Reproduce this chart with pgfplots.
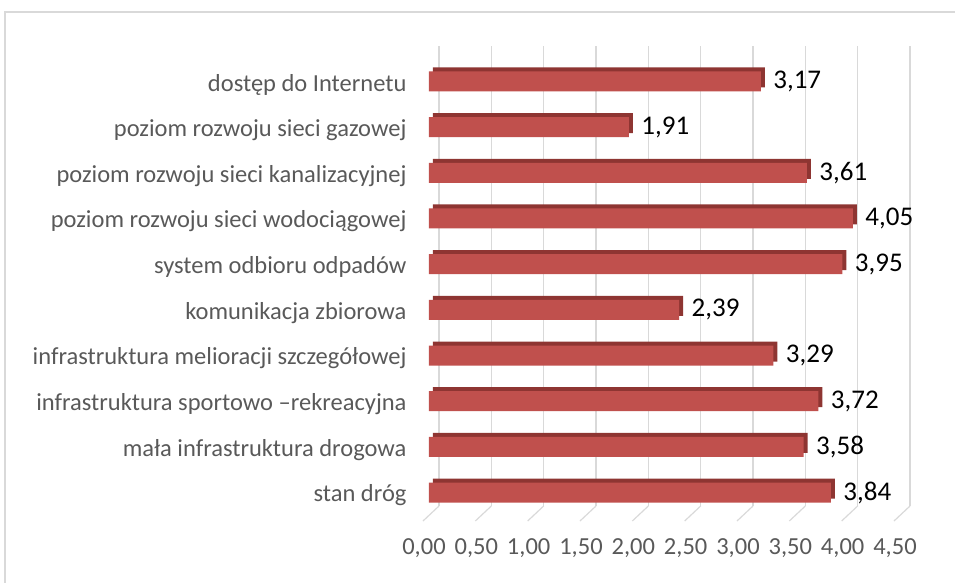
\documentclass[border=0pt]{standalone}
\usepackage{pgfplots}
\pgfplotsset{compat=1.18}
\usepackage{fontspec}
\setmainfont{Carlito}

\definecolor{barfront}{HTML}{C0504D}
\definecolor{barside}{HTML}{8E3532}
\definecolor{gridc}{HTML}{D9D9D9}
\definecolor{labc}{HTML}{595959}

\begin{document}
\begin{tikzpicture}
\useasboundingbox (-429pt,-61pt) rectangle (526pt,521pt);
\draw[gridc, line width=1.2pt] (-424pt,-64pt) -- (-424pt,509pt) -- (530pt,509pt);
\begin{axis}[
    at={(0pt,0pt)}, anchor=south west,
    scale only axis, width=471pt, height=475pt,
    xmin=0, xmax=4.5, ymin=-0.624, ymax=9.777,
    clip=false,
    axis line style={draw=none},
    major tick length=0pt,
    xtick={0,0.5,1,1.5,2,2.5,3,3.5,4,4.5},
    ytick={0,...,9},
    yticklabels={stan dróg, mała infrastruktura drogowa,
        infrastruktura sportowo –rekreacyjna,
        infrastruktura melioracji szczegółowej, komunikacja zbiorowa,
        system odbioru odpadów, poziom rozwoju sieci wodociągowej,
        poziom rozwoju sieci kanalizacyjnej, poziom rozwoju sieci gazowej,
        dostęp do Internetu},
    /pgf/number format/.cd, use comma, fixed, fixed zerofill, precision=2,
        assume math mode=true,
    /pgfplots/.cd,
    xticklabel style={font=\fontsize{24.5}{28}\selectfont, text=labc, xshift=-5pt, yshift=-14pt},
    yticklabel style={font=\fontsize{24.5}{28}\selectfont, text=labc, xshift=-19pt, yshift=-3pt},
]
% back wall grid and floor lines
\pgfplotsinvokeforeach{0,0.5,1,1.5,2,2.5,3,3.5,4,4.5}{
  \draw[gridc, line width=1.2pt] ([xshift=10pt,yshift=15pt]axis cs:#1,-0.624) -- ([xshift=10pt]axis cs:#1,9.777);
  \draw[gridc, line width=1.2pt] ([xshift=-6pt]axis cs:#1,-0.624) -- ([xshift=10pt,yshift=15pt]axis cs:#1,-0.624);
}
% top and side faces of the bars
\addplot[xbar, bar width=20pt, fill=barside, draw=none, xshift=4pt, yshift=4pt] coordinates {
    (3.84,0) (3.58,1) (3.72,2) (3.29,3) (2.39,4)
    (3.95,5) (4.05,6) (3.61,7) (1.91,8) (3.17,9)
};
% front faces
\addplot[xbar, bar width=20pt, fill=barfront, draw=none,
    nodes near coords, point meta=x,
    nodes near coords style={anchor=west, xshift=9pt, text=black, font=\fontsize{27}{32}\selectfont}] coordinates {
    (3.84,0) (3.58,1) (3.72,2) (3.29,3) (2.39,4)
    (3.95,5) (4.05,6) (3.61,7) (1.91,8) (3.17,9)
};
\end{axis}
\end{tikzpicture}
\end{document}
